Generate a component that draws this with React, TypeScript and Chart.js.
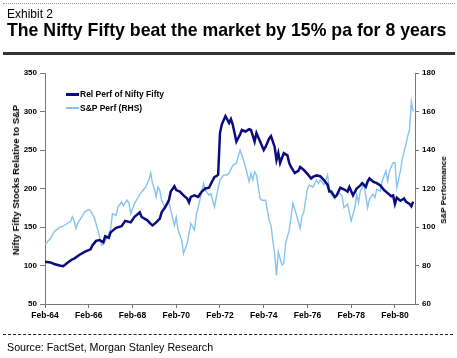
import React, { useEffect, useRef } from "react";
import { Chart, registerables } from "chart.js";

Chart.register(...registerables);

// Months since Feb-1964
const relMonths = [0,3,5,8,10,12,15,16,19,22,25,26,28,30,32,33,35,36,39,42,44,47,49,52,53,56,58,59,61,63,64,66,68,69,71,72,74,76,78,79,80,82,84,86,88,90,91,93,94,95,96,97,99,101,102,103,104,105,107,108,110,112,113,115,116,118,120,121,123,124,126,127,128,129,131,133,134,135,137,139,140,142,144,146,147,149,151,153,155,156,157,159,160,162,164,166,167,169,171,173,174,176,177,178,180,182,184,186,188,190,191,192,193,195,197,198,200,201,202];
const relValues = [105,104,102,100,99,103,108,109,114,118,121,126,132,133,130,138,136,143,149,151,158,156,163,169,163,159,154,152,156,161,169,176,185,196,203,198,196,191,187,182,189,191,189,196,200,201,206,215,216,218,272,283,294,285,290,283,272,261,270,276,274,277,276,261,272,261,250,254,265,268,254,237,246,233,246,243,233,228,220,223,228,224,219,213,215,217,216,211,205,196,196,189,191,201,199,196,202,191,200,204,207,202,209,213,209,207,204,198,194,190,191,180,188,184,187,183,180,177,183];

const spMonths = [0,3,5,8,10,12,14,15,16,17,18,20,22,24,25,27,29,31,32,34,36,37,39,40,42,43,45,46,47,49,52,53,55,57,58,59,60,61,62,63,64,66,68,69,71,72,73,75,76,78,79,80,82,83,85,87,88,90,91,93,94,96,98,100,101,103,105,107,108,110,112,113,114,115,116,118,119,121,122,123,124,125,126,127,128,130,131,132,134,136,138,140,141,142,144,145,147,149,150,151,153,155,156,157,159,161,163,164,166,167,168,170,171,172,173,175,177,178,180,181,182,184,185,187,188,189,191,192,193,195,196,198,199,200,201,202];
const spValues = [91,94,97.5,99.8,100.4,101.8,103,105.3,103.2,99.2,102,105,108,109,108.3,105,98.4,90.6,91,94.4,99,107,106,110.4,113,111,114,112.6,107,112,117,118.2,120.5,124.4,128.2,122.6,120,115.6,120.8,119,113.9,109.6,113,108.7,100.8,105,98.4,93.2,86.2,91.5,96.7,101.9,98.4,106.2,114,122.6,119,116.5,117.4,110.4,115.6,124.4,127,127,128,132,133,140,137.4,131.3,123.5,127.8,124.4,128.7,127,114.8,113.9,113.9,108.7,103.5,100.8,93,86.2,74.9,87.1,80.2,81,91.5,98.4,112.3,106.2,99.3,105.4,107.9,120,121.7,120.8,124.4,122.6,124.4,122,127,120.4,117,114.5,117.9,116.2,110.1,111.9,107.5,103.2,110.1,117,112.7,118.7,122.2,110.1,114.5,117,115.3,119.6,118.7,123.9,129.1,123.9,129.1,133.4,133.4,120.4,129.1,135.1,142.9,147.2,150.6,165.2,160];

const xTickMonths = [0,24,48,72,96,120,144,168,192];
const monthLabel = (m: number) => "Feb-" + String(64 + Math.round(m / 12));

const FONT = "'Liberation Sans', Arial, sans-serif";
const DARK = "#0c0c7e";
const LIGHT = "#86c3f0";

export default function App() {
  const ref = useRef<HTMLCanvasElement | null>(null);

  useEffect(() => {
    document.body.style.margin = "0";
    const ctx = ref.current!;
    const chart = new Chart(ctx, {
      type: "line",
      data: {
        datasets: [
          {
            label: "Rel Perf of Nifty Fifty",
            data: relMonths.map((m, i) => ({ x: m, y: relValues[i] })),
            borderColor: DARK,
            borderWidth: 2.5,
            pointRadius: 0,
            tension: 0,
            yAxisID: "y",
          },
          {
            label: "S&P Perf (RHS)",
            data: spMonths.map((m, i) => ({ x: m, y: spValues[i] })),
            borderColor: LIGHT,
            borderWidth: 1.4,
            pointRadius: 0,
            tension: 0,
            yAxisID: "y1",
          },
        ],
      },
      options: {
        responsive: false,
        animation: false,
        devicePixelRatio: 1,
        layout: { padding: { top: 73, bottom: 24, left: 0, right: 0 } },
        plugins: { legend: { display: false }, tooltip: { enabled: false } },
        scales: {
          x: {
            type: "linear",
            min: 0,
            max: 203,
            afterBuildTicks: (s: any) => {
              s.ticks = xTickMonths.map((v) => ({ value: v }));
            },
            afterFit: (s: any) => {
              s.height = 30;
            },
            ticks: {
              autoSkip: false,
              maxRotation: 0,
              padding: 3,
              color: "#000",
              font: { family: FONT, size: 8.5, weight: "bold" },
              callback: (v: any) => monthLabel(Number(v)),
            },
            grid: { drawOnChartArea: false, drawTicks: true, tickLength: 4, color: "#777" },
            border: { display: true, color: "#777", dash: [1, 1] },
          },
          y: {
            type: "linear",
            position: "left",
            min: 50,
            max: 350,
            afterFit: (s: any) => {
              s.width = 45;
            },
            ticks: {
              stepSize: 50,
              padding: 3,
              color: "#000",
              font: { family: FONT, size: 8, weight: "bold" },
            },
            grid: { drawOnChartArea: false, drawTicks: true, tickLength: 5, color: "#777" },
            border: { display: true, color: "#777" },
          },
          y1: {
            type: "linear",
            position: "right",
            min: 60,
            max: 180,
            afterFit: (s: any) => {
              s.width = 42;
            },
            ticks: {
              stepSize: 20,
              padding: 3,
              color: "#000",
              font: { family: FONT, size: 8, weight: "bold" },
            },
            grid: { drawOnChartArea: false, drawTicks: true, tickLength: 4, color: "#777" },
            border: { display: true, color: "#777" },
          },
        },
      },
    } as any);
    return () => chart.destroy();
  }, []);

  const abs = (s: React.CSSProperties): React.CSSProperties => ({ position: "absolute", ...s });

  return (
    <div style={{ position: "absolute", left: 0, top: 0, width: 457, height: 358, background: "#fff", overflow: "hidden", fontFamily: FONT }}>
      <canvas ref={ref} width={457} height={358} style={abs({ left: 0, top: 0, width: 457, height: 358 })} />
      <div style={abs({ left: 3, top: 3, width: 452, borderTop: "1px dotted #999" })} />
      <div style={abs({ left: 7, top: 8, fontSize: 12, lineHeight: "12px", whiteSpace: "nowrap", color: "#000" })}>Exhibit 2</div>
      <div style={abs({ left: 7, top: 22, fontSize: 17.7, lineHeight: "17.7px", fontWeight: "bold", whiteSpace: "nowrap", color: "#000" })}>
        The Nifty Fifty beat the market by 15% pa for 8 years
      </div>
      <div style={abs({ left: 3, top: 52, width: 452, height: 3, background: "#333" })} />
      <div style={abs({ left: 3, top: 334, width: 450, borderTop: "1px dashed #222" })} />
      <div style={abs({ left: 7, top: 342, fontSize: 10.7, lineHeight: "10.7px", whiteSpace: "nowrap", color: "#000" })}>
        Source: FactSet, Morgan Stanley Research
      </div>
      {/* legend */}
      <div style={abs({ left: 66, top: 93, width: 13, height: 3, background: DARK })} />
      <div style={abs({ left: 80, top: 88.3, fontSize: 8.5, lineHeight: "12px", fontWeight: "bold", whiteSpace: "nowrap", color: "#000" })}>
        Rel Perf of Nifty Fifty
      </div>
      <div style={abs({ left: 66, top: 107, width: 13, height: 1.5, background: LIGHT })} />
      <div style={abs({ left: 80, top: 101.7, fontSize: 8.5, lineHeight: "12px", fontWeight: "bold", whiteSpace: "nowrap", color: "#000" })}>
        S&amp;P Perf (RHS)
      </div>
      {/* axis titles */}
      <div style={abs({ left: 16, top: 180, transform: "translate(-50%,-50%) rotate(-90deg)", fontSize: 9.5, fontWeight: "bold", whiteSpace: "nowrap", color: "#000", lineHeight: "10px" })}>
        Nifty Fifty Stocks Relative to S&amp;P
      </div>
      <div style={abs({ left: 444, top: 190, transform: "translate(-50%,-50%) rotate(-90deg)", fontSize: 8, fontWeight: "bold", whiteSpace: "nowrap", color: "#000", lineHeight: "8px" })}>
        S&amp;P Performance
      </div>
    </div>
  );
}
